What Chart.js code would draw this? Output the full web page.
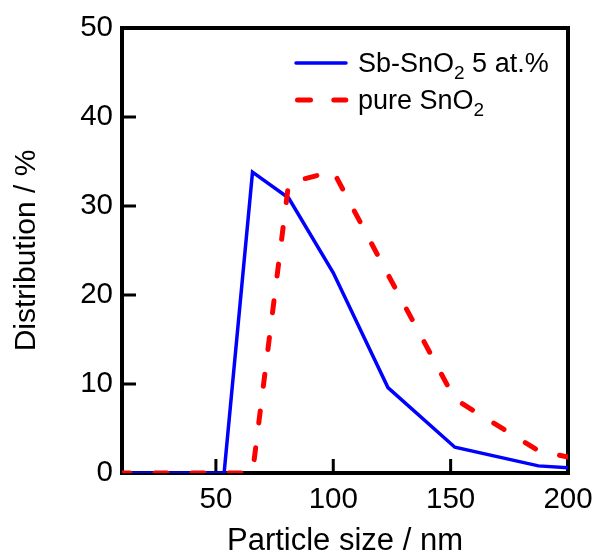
<!DOCTYPE html>
<html>
<head>
<meta charset="utf-8">
<script src="https://cdn.jsdelivr.net/npm/chart.js@4.4.0/dist/chart.umd.min.js"></script>
<style>
  html, body { margin: 0; padding: 0; background: #fff; }
</style>
</head>
<body>
<canvas id="c" width="596" height="554"></canvas>
<script>
// particle size distribution (DLS bins, nm)
const sizes = [10, 12.3, 15.2, 18.8, 23.1, 28.5, 35.2, 43.4, 53.5, 65.6, 81, 100, 123.3, 151.8, 187.4, 200];
const sbSnO2 = [0, 0, 0, 0, 0, 0, 0, 0, 0, 33.8, 30.9, 22.5, 9.6, 2.9, 0.8, 0.6];
const pureSnO2 = [0, 0, 0, 0, 0, 0, 0, 0, 0, 0, 32.6, 33.9, 22.3, 8.3, 2.5, 1.8];
const xTicks = [50, 100, 150, 200];
const yTicks = [0, 10, 20, 30, 40, 50];

const FONT = "'Liberation Sans', Arial, sans-serif";
const BLUE = '#0000ff';
const RED = '#ff0000';

// box round the plot + inward tick marks (drawn under the data lines)
const FramePlugin = {
  id: 'frame',
  beforeDatasetsDraw(chart) {
    const { ctx, chartArea: a, scales } = chart;
    ctx.save();
    ctx.strokeStyle = '#000';
    ctx.lineWidth = 3;
    ctx.beginPath();
    scales.x.ticks.forEach(t => {
      const px = scales.x.getPixelForValue(t.value);
      ctx.moveTo(px, a.bottom);
      ctx.lineTo(px, a.bottom - 14);
    });
    scales.y.ticks.forEach(t => {
      const py = scales.y.getPixelForValue(t.value);
      ctx.moveTo(a.left, py);
      ctx.lineTo(a.left + 14, py);
    });
    ctx.stroke();
    ctx.lineWidth = 4;
    ctx.strokeRect(a.left, a.top, a.right - a.left, a.bottom - a.top);
    ctx.restore();
  }
};

// legend with subscripts (SnO2)
function drawRich(ctx, parts, x, y) {
  parts.forEach(p => {
    ctx.font = (p.sub ? '19px ' : '27px ') + FONT;
    ctx.fillText(p.t, x, p.sub ? y + 7 : y);
    x += ctx.measureText(p.t).width;
  });
}

const LegendPlugin = {
  id: 'richLegend',
  afterDraw(chart) {
    const { ctx } = chart;
    ctx.save();
    ctx.lineCap = 'round';
    // Sb-SnO2
    ctx.strokeStyle = BLUE;
    ctx.lineWidth = 3.5;
    ctx.beginPath();
    ctx.moveTo(296, 63);
    ctx.lineTo(346, 63);
    ctx.stroke();
    // pure SnO2
    ctx.strokeStyle = RED;
    ctx.lineWidth = 5;
    ctx.setLineDash([13, 23.3]);
    ctx.beginPath();
    ctx.moveTo(297.5, 100);
    ctx.lineTo(345.8, 100);
    ctx.stroke();
    ctx.setLineDash([]);
    ctx.fillStyle = '#000';
    ctx.textBaseline = 'alphabetic';
    ctx.textAlign = 'left';
    drawRich(ctx, [{ t: 'Sb-SnO' }, { t: '2', sub: true }, { t: ' 5 at.%' }], 358, 72);
    drawRich(ctx, [{ t: 'pure SnO' }, { t: '2', sub: true }], 358, 109);
    ctx.restore();
  }
};

new Chart(document.getElementById('c'), {
  type: 'line',
  data: {
    datasets: [
      {
        label: 'Sb-SnO2 5 at.%',
        data: sizes.map((s, i) => ({ x: s, y: sbSnO2[i] })),
        borderColor: BLUE,
        borderWidth: 3.5,
        pointRadius: 0,
        tension: 0,
        order: 2
      },
      {
        label: 'pure SnO2',
        data: sizes.map((s, i) => ({ x: s, y: pureSnO2[i] })),
        borderColor: RED,
        borderWidth: 5,
        borderDash: [12, 25],
        borderDashOffset: 4,
        borderCapStyle: 'round',
        pointRadius: 0,
        tension: 0,
        order: 1
      }
    ]
  },
  options: {
    responsive: false,
    animation: false,
    layout: { padding: { left: 0, right: 28, top: 28, bottom: 0 } },
    plugins: {
      legend: { display: false },
      tooltip: { enabled: false }
    },
    scales: {
      x: {
        type: 'linear',
        min: 10,
        max: 200,
        afterBuildTicks: s => { s.ticks = xTicks.map(v => ({ value: v })); },
        afterFit: s => { s.height = 81; s.paddingLeft = 0; s.paddingRight = 0; },
        grid: { display: false, drawTicks: false },
        border: { display: false },
        ticks: {
          color: '#000',
          padding: 12,
          maxRotation: 0,
          autoSkip: false,
          font: { family: FONT, size: 29.5, lineHeight: 1 }
        },
        title: {
          display: true,
          text: 'Particle size / nm',
          color: '#000',
          padding: { top: 0, bottom: 0 },
          font: { family: FONT, size: 31, lineHeight: 0.8 }
        }
      },
      y: {
        min: 0,
        max: 50,
        afterBuildTicks: s => { s.ticks = yTicks.map(v => ({ value: v })); },
        afterFit: s => { s.width = 122; },
        grid: { display: false, drawTicks: false },
        border: { display: false },
        ticks: {
          color: '#000',
          padding: 9,
          autoSkip: false,
          font: { family: FONT, size: 29.5, lineHeight: 1.2 }
        },
        title: {
          display: true,
          text: 'Distribution / %',
          color: '#000',
          padding: { top: 12, bottom: 0 },
          font: { family: FONT, size: 30, lineHeight: 1 }
        }
      }
    }
  },
  plugins: [FramePlugin, LegendPlugin]
});
</script>
</body>
</html>
